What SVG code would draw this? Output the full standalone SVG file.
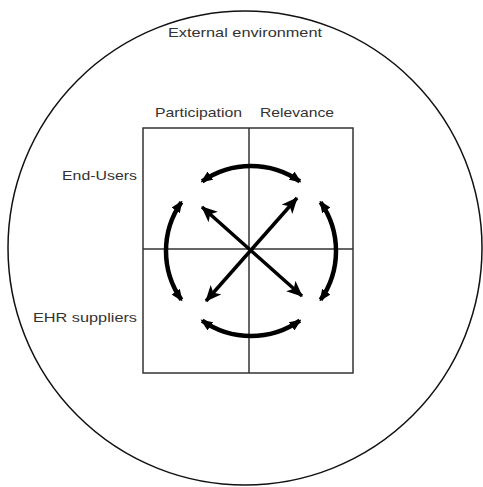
<svg xmlns="http://www.w3.org/2000/svg" width="483" height="487" viewBox="0 0 483 487">
<style>
.lbl{font-family:"Liberation Sans",Arial,sans-serif;font-size:13px;fill:#333}
.grid{fill:none;stroke:#333;stroke-width:1.5}
.arc{fill:none;stroke:#000;stroke-width:4.5}
.diag{stroke:#000;stroke-width:3.5}
</style>
<defs>
<marker id="ah" markerUnits="userSpaceOnUse" markerWidth="16" markerHeight="14" refX="15" refY="7" orient="auto-start-reverse">
<path d="M0,0 L16,7 L0,14 L4,7 Z" fill="#000"/>
</marker>
<marker id="ahs" markerUnits="userSpaceOnUse" markerWidth="12" markerHeight="10" refX="10" refY="5" orient="auto-start-reverse">
<path d="M0,0 L12,5 L0,10 Z" fill="#000"/>
</marker>
</defs>
<g id="environment">
<circle cx="245" cy="248" r="237" fill="none" stroke="#111" stroke-width="1.5"/>
<text class="lbl" x="168" y="37" textLength="154" lengthAdjust="spacingAndGlyphs">External environment</text>
</g>
<g id="grid">
<rect class="grid" x="143" y="128" width="210" height="245"/>
<line class="grid" x1="249" y1="128" x2="249" y2="373"/>
<line class="grid" x1="143" y1="249" x2="353" y2="249"/>
</g>
<g id="labels">
<text class="lbl" x="155" y="117" textLength="87" lengthAdjust="spacingAndGlyphs">Participation</text>
<text class="lbl" x="260" y="117" textLength="74" lengthAdjust="spacingAndGlyphs">Relevance</text>
<text class="lbl" x="62" y="180" textLength="75" lengthAdjust="spacingAndGlyphs">End-Users</text>
<text class="lbl" x="33" y="322" textLength="104" lengthAdjust="spacingAndGlyphs">EHR suppliers</text>
</g>
<g id="connectors">
<path class="arc" d="M202.2,181.4 A85,85 0 0 1 299.8,181.4" marker-start="url(#ahs)" marker-end="url(#ahs)"/>
<path class="arc" d="M320.6,202.2 A85,85 0 0 1 320.6,299.8" marker-start="url(#ahs)" marker-end="url(#ahs)"/>
<path class="arc" d="M299.8,320.6 A85,85 0 0 1 202.2,320.6" marker-start="url(#ahs)" marker-end="url(#ahs)"/>
<path class="arc" d="M181.4,299.8 A85,85 0 0 1 181.4,202.2" marker-start="url(#ahs)" marker-end="url(#ahs)"/>
<line class="diag" x1="202" y1="207" x2="302" y2="296" marker-start="url(#ah)" marker-end="url(#ah)"/>
<line class="diag" x1="297" y1="198" x2="206" y2="301" marker-start="url(#ah)" marker-end="url(#ah)"/>
</g>
</svg>
